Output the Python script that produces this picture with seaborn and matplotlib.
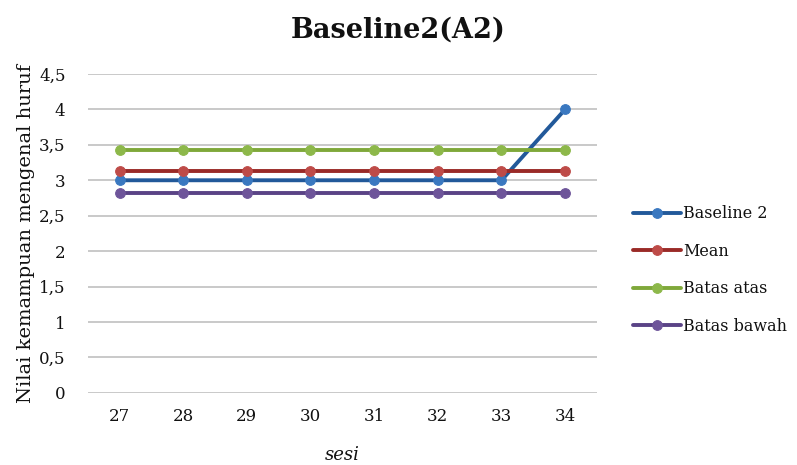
import matplotlib
matplotlib.use("Agg")
import matplotlib.pyplot as plt
import seaborn as sns
import pandas as pd

# Session numbers and scores for phase A2
sesi = [27, 28, 29, 30, 31, 32, 33, 34]
baseline2 = [3, 3, 3, 3, 3, 3, 3, 4]
mean = [3.125] * 8
batas_atas = [3.425] * 8
batas_bawah = [2.825] * 8

series = [
    ("Baseline 2", baseline2, "#22599A", "#3A78C0"),
    ("Mean", mean, "#9A2A27", "#BE4B48"),
    ("Batas atas", batas_atas, "#7FA83A", "#8DB84A"),
    ("Batas bawah", batas_bawah, "#5A4386", "#6E559A"),
]
y_ticks = [0, 0.5, 1, 1.5, 2, 2.5, 3, 3.5, 4, 4.5]

sns.set_style("white")
plt.rcParams["font.family"] = ["DejaVu Serif"]
plt.rcParams["text.color"] = "#111111"
plt.rcParams["axes.labelcolor"] = "#111111"
plt.rcParams["xtick.color"] = "#111111"
plt.rcParams["ytick.color"] = "#111111"

fig = plt.figure(figsize=(7.97, 4.65), dpi=100)
ax = fig.add_axes([0.110, 0.155, 0.639, 0.686])

for label, vals, line_c, face_c in series:
    df = pd.DataFrame({"sesi": sesi, "nilai": vals})
    sns.lineplot(data=df, x="sesi", y="nilai", ax=ax, color=line_c, lw=2.8,
                 marker="o", markersize=7, markerfacecolor=face_c,
                 markeredgecolor=face_c, label=label, zorder=3)

ax.set_xlim(26.5, 34.5)
ax.set_ylim(0, 4.5)
ax.set_xticks(sesi)
ax.set_xticklabels([str(s) for s in sesi], fontsize=12)
ax.set_yticks(y_ticks)
ax.set_yticklabels([f"{t:g}".replace(".", ",") for t in y_ticks], fontsize=12)
ax.yaxis.grid(True, color="#C0C0C0", lw=1.2)
ax.set_axisbelow(True)
for s in ax.spines.values():
    s.set_visible(False)
ax.tick_params(axis="x", length=0, pad=11)
ax.tick_params(axis="y", length=0, pad=16)

fig.suptitle("Baseline2(A2)", x=0.5, y=0.965, fontsize=19.5, fontweight="bold")
ax.set_xlabel("sesi", fontsize=13, style="italic", labelpad=15)
ax.set_ylabel("Nilai kemampuan mengenal huruf", fontsize=14, labelpad=3)

handles, labels = ax.get_legend_handles_labels()
ax.legend_.remove()
fig.legend(handles, labels, loc="center left", bbox_to_anchor=(0.776, 0.419),
           frameon=False, fontsize=11.5, handlelength=3.0, handletextpad=0.15,
           labelspacing=1.28)

fig.savefig("out.png", dpi=100)
